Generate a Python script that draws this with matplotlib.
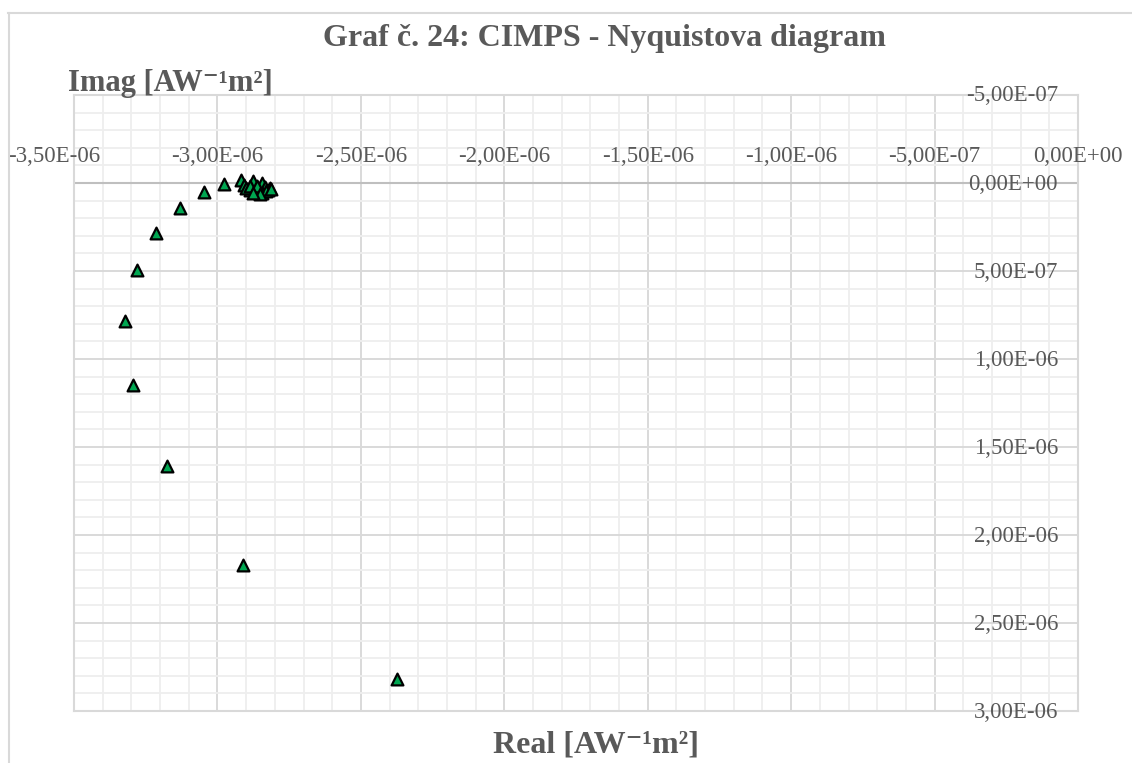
import matplotlib
matplotlib.use("Agg")
import matplotlib.pyplot as plt
from matplotlib.ticker import MultipleLocator
from matplotlib.lines import Line2D

plt.rcParams['font.family'] = ['Liberation Serif', 'DejaVu Serif']

# CIMPS data
real = [-2.374e-6, -2.910e-6, -3.175e-6, -3.294e-6, -3.322e-6, -3.280e-6,
        -3.214e-6, -3.130e-6, -3.046e-6, -2.977e-6,
        -2.917e-6, -2.907e-6, -2.876e-6, -2.844e-6, -2.834e-6, -2.858e-6,
        -2.885e-6, -2.900e-6, -2.823e-6, -2.816e-6, -2.869e-6, -2.844e-6,
        -2.830e-6, -2.886e-6, -2.862e-6, -2.850e-6, -2.875e-6, -2.812e-6]
imag = [2.818e-6, 2.170e-6, 1.608e-6, 1.148e-6, 0.784e-6, 0.494e-6,
        0.284e-6, 0.142e-6, 0.051e-6, 0.005e-6,
        -0.017e-6, 0.011e-6, -0.011e-6, 0.0, 0.023e-6, 0.040e-6,
        0.040e-6, 0.028e-6, 0.040e-6, 0.028e-6, 0.050e-6, 0.055e-6,
        0.048e-6, 0.017e-6, 0.017e-6, 0.060e-6, 0.055e-6, 0.035e-6]

x_ticks = [-3.5e-6, -3.0e-6, -2.5e-6, -2.0e-6, -1.5e-6, -1.0e-6, -5e-7, 0.0]
x_labels = ["-3,50E-06", "-3,00E-06", "-2,50E-06", "-2,00E-06", "-1,50E-06",
            "-1,00E-06", "-5,00E-07", "0,00E+00"]
y_ticks = [-5e-7, 0.0, 5e-7, 1.0e-6, 1.5e-6, 2.0e-6, 2.5e-6, 3.0e-6]
y_labels = ["-5,00E-07", "0,00E+00", "5,00E-07", "1,00E-06", "1,50E-06",
            "2,00E-06", "2,50E-06", "3,00E-06"]

txt = '#595959'

fig = plt.figure(figsize=(11.32, 7.63), dpi=100)
ax = fig.add_axes([0.0654, 0.0681, 0.8869, 0.8074])

ax.set_xlim(-3.5e-6, 0)
ax.set_ylim(3.0e-6, -5e-7)

ax.xaxis.set_major_locator(MultipleLocator(5e-7))
ax.xaxis.set_minor_locator(MultipleLocator(1e-7))
ax.yaxis.set_major_locator(MultipleLocator(5e-7))
ax.yaxis.set_minor_locator(MultipleLocator(1e-7))
ax.grid(which='minor', color='#eeeeee', lw=1.3)
ax.grid(which='major', color='#d9d9d9', lw=1.4)
ax.set_axisbelow(True)
ax.tick_params(which='both', length=0, labelbottom=False, labelleft=False)
for s in ax.spines.values():
    s.set_color('#d9d9d9')
    s.set_linewidth(1.5)

ax.axhline(0, color='#bfbfbf', lw=1.5, zorder=1)

ax.scatter(real, imag, marker='^', s=72, c='#00a651', edgecolors='black',
           linewidths=1.6, zorder=3)

for i, (xv, lab) in enumerate(zip(x_ticks, x_labels)):
    dx = -20 if i == 0 else 0
    ax.annotate(lab, xy=(xv, 0), xytext=(dx, 27), textcoords='offset pixels',
                ha='center', va='center', fontsize=16.5, color=txt,
                annotation_clip=False)
for yv, lab in zip(y_ticks, y_labels):
    ax.annotate(lab, xy=(0, yv), xytext=(-20, -1), textcoords='offset pixels',
                ha='right', va='center', fontsize=16.5, color=txt,
                annotation_clip=False)

fig.text(0.5336, 0.950, "Graf č. 24: CIMPS - Nyquistova diagram",
         ha='center', va='center', fontsize=23, fontweight='bold', color=txt)
fig.text(0.060, 0.891, "Imag [AW⁻¹m²]",
         ha='left', va='center', fontsize=22, fontweight='bold', color=txt)
fig.text(0.5265, 0.0236, "Real [AW⁻¹m²]",
         ha='center', va='center', fontsize=23, fontweight='bold', color=txt)

# chart frame (partly visible)
fig.add_artist(Line2D([8 / 1132, 1], [1 - 13 / 763, 1 - 13 / 763],
                      transform=fig.transFigure, color='#d9d9d9', lw=1.5))
fig.add_artist(Line2D([9 / 1132, 9 / 1132], [0, 1 - 13 / 763],
                      transform=fig.transFigure, color='#d9d9d9', lw=1.5))

fig.savefig("out.png", dpi=100)
